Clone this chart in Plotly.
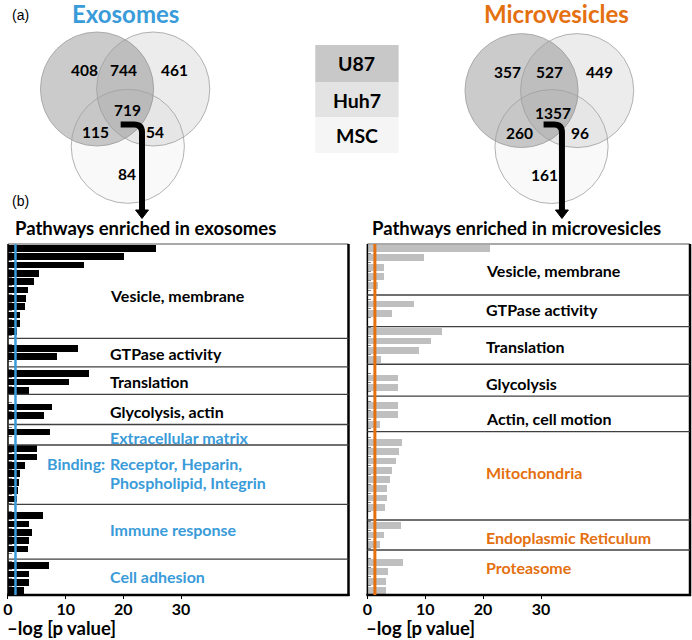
import plotly.graph_objects as go

W, H = 692, 640

# ---------------- data ----------------
exo_values = [25.6, 20.1, 13.1, 5.3, 4.5, 3.4, 3.2, 3.0, 2.1, 2.0, 1.5, None,
              12.1, 8.5, None,
              14.1, 10.5, 3.6, None,
              7.6, 6.3, None,
              7.3, None,
              5.1, 5.0, 2.9, 2.1, 1.95, 1.8, 1.6, None,
              6.1, 3.7, 4.1, 3.6, 3.4, None,
              7.1, 3.6, 3.6, 2.8]
mv_values = [21.3, 9.8, 3.0, 3.0, 1.9, None,
             8.1, 4.3, None,
             13.0, 11.0, 8.9, 2.5, None,
             5.4, 5.3, None,
             5.4, 5.35, 2.3, None,
             6.0, 5.6, 5.0, 4.4, 3.9, 3.5, 3.4, 3.1, None,
             5.9, 2.9, 2.2, None,
             6.2, 3.6, 3.3, 3.3]
exo_sections = ["Vesicle, membrane", "GTPase activity", "Translation", "Glycolysis, actin",
                "Extracellular matrix", "Binding:|Receptor, Heparin,|Phospholipid, Integrin",
                "Immune response", "Cell adhesion"]
exo_section_highlight = [False, False, False, False, True, True, True, True]
mv_sections = ["Vesicle, membrane", "GTPase activity", "Translation", "Glycolysis",
               "Actin, cell motion", "Mitochondria", "Endoplasmic Reticulum", "Proteasome"]
mv_section_highlight = [False, False, False, False, False, True, True, True]
x_ticks = [0, 10, 20, 30]
threshold = 1.3
exo_venn_counts = [408, 744, 461, 719, 115, 54, 84]
mv_venn_counts = [357, 527, 449, 1357, 260, 96, 161]
cell_lines = ["U87", "Huh7", "MSC"]

# ---------------- style / layout ----------------
FONT = "Lato"
BLUE = "#3a9bd9"
ORANGE = "#e4700f"

def px(x):
    return x / W

def py(y):
    return 1 - y / H

TOP, BOT = 244, 595
exo_x0, exo_x1 = 3, 346
mv_x0, mv_x1 = 365, 690

fig = go.Figure()
fig.add_trace(go.Bar(x=exo_values, y=list(range(len(exo_values))), orientation="h",
                     marker=dict(color="black", line=dict(width=0)), width=0.8,
                     xaxis="x", yaxis="y", showlegend=False, hoverinfo="x"))
fig.add_trace(go.Bar(x=mv_values, y=list(range(len(mv_values))), orientation="h",
                     marker=dict(color="#bfbfbf", line=dict(width=0)), width=0.74,
                     xaxis="x2", yaxis="y2", showlegend=False, hoverinfo="x"))

tickfont = dict(family=FONT, size=16, color="black", weight="bold")
common_x = dict(tickvals=x_ticks, ticktext=[str(t) for t in x_ticks], ticks="outside",
                ticklen=3, tickcolor="black", tickfont=tickfont, showgrid=False,
                zeroline=False, showline=False, fixedrange=True, ticklabelstandoff=-3)
common_y = dict(ticks="inside", ticklen=4, tickcolor="#808080", showticklabels=False,
                showgrid=False, zeroline=False, showline=False, fixedrange=True)

ydom = [py(BOT), py(TOP)]
fig.update_layout(
    xaxis=dict(domain=[px(exo_x0), px(exo_x1)], range=[0, (exo_x1 - exo_x0) / 5.81],
               anchor="y", **common_x),
    yaxis=dict(domain=ydom, range=[len(exo_values) - 0.5, -0.5], anchor="x",
               tickvals=[i + 0.5 for i in range(len(exo_values) - 1)], **common_y),
    xaxis2=dict(domain=[px(mv_x0), px(mv_x1)], range=[0, (mv_x1 - mv_x0) / 5.83],
                anchor="y2", **common_x),
    yaxis2=dict(domain=ydom, range=[len(mv_values) - 0.5, -0.5], anchor="x2",
                tickvals=[i + 0.5 for i in range(len(mv_values) - 1)], **common_y),
    width=W, height=H, margin=dict(l=0, r=0, t=0, b=0),
    paper_bgcolor="white", plot_bgcolor="rgba(0,0,0,0)", bargap=0,
)

shapes = []
annotations = []

def line(x0, y0, x1, y1, color, width):
    shapes.append(dict(type="line", xref="paper", yref="paper", x0=px(x0), y0=py(y0),
                       x1=px(x1), y1=py(y1), line=dict(color=color, width=width)))

# panel frames
for a, b in [(exo_x0, exo_x1), (mv_x0, mv_x1)]:
    line(a, TOP, b, TOP, "#555555", 1)
    line(a, TOP, a, BOT, "black", 1.5)
    line(a - 1, BOT, b + 1, BOT, "black", 2.5)
    line(b, TOP, b, BOT + 1, "black", 2.5)

# section separators (row units)
exo_sep = [10.8, 14.2, 17.5, 21.1, 23.55, 30.65, 37.2]
mv_sep = [5.02, 8.45, 12.52, 15.96, 19.82, 29.38, 32.63]
for s in exo_sep:
    shapes.append(dict(type="line", xref="x domain", yref="y", x0=0, x1=1, y0=s, y1=s,
                       line=dict(color="#404040", width=1.3)))
for s in mv_sep:
    shapes.append(dict(type="line", xref="x2 domain", yref="y2", x0=0, x1=1, y0=s, y1=s,
                       line=dict(color="#404040", width=1.3)))

# significance threshold lines
shapes.append(dict(type="line", xref="x", yref="y domain", x0=threshold, x1=threshold,
                   y0=0, y1=1, line=dict(color=BLUE, width=2.5)))
shapes.append(dict(type="line", xref="x2", yref="y2 domain", x0=threshold, x1=threshold,
                   y0=0, y1=1, line=dict(color=ORANGE, width=3)))

def text(x, y, s, size, color="black", bold=True, xanchor="left", family=FONT):
    annotations.append(dict(x=px(x), y=py(y), xref="paper", yref="paper", text=s,
                            showarrow=False, xanchor=xanchor, yanchor="middle",
                            font=dict(family=family, size=size, color=color,
                                      weight="bold" if bold else "normal")))

# section labels
LS = 16
exo_label_y = [295, 353, 381, 411, 437, 463, 529, 576]
for lab, hl, yy in zip(exo_sections, exo_section_highlight, exo_label_y):
    col = BLUE if hl else "black"
    if "|" in lab:
        p1, p2, p3 = lab.split("|")
        text(103, yy, p1, LS, col, xanchor="right")
        text(104, yy, p2, LS, col)
        text(104, yy + 19, p3, LS, col)
    else:
        text(104, yy, lab, LS, col)
mv_label_y = [270, 309, 346, 383, 418, 472, 537, 567]
for lab, hl, yy in zip(mv_sections, mv_section_highlight, mv_label_y):
    text(482, yy, lab, LS, ORANGE if hl else "black")

# panel titles / axis titles
text(8, 228, "Pathways enriched in exosomes", 18.5)
text(368, 228, "Pathways enriched in microvesicles", 18.5)
text(0, 628, "\u2013log [p value]", 18.5)
text(362, 628, "\u2013log [p value]", 18.5)
text(5, 15, "(a)", 14, bold=False, family="Liberation Sans")
text(5, 201, "(b)", 14, bold=False, family="Liberation Sans")
text(121, 14, "Exosomes", 24, BLUE, xanchor="center")
text(556, 14, "Microvesicles", 24, ORANGE, xanchor="center")

# venn diagrams
def circle(cx, cy, r, fill):
    shapes.append(dict(type="circle", xref="paper", yref="paper", x0=px(cx - r), x1=px(cx + r),
                       y0=py(cy + r), y1=py(cy - r), fillcolor=fill,
                       line=dict(color="#a0a0a0", width=0.8), layer="below"))

fills = ["rgba(110,110,110,0.36)", "rgba(110,110,110,0.13)", "rgba(110,110,110,0.04)"]
exo_centers = [(92.7, 89), (149.3, 89), (123.7, 146.3)]
mv_centers = [(520.3, 90.6), (576.3, 90.6), (550.5, 146.5)]
for centers in (exo_centers, mv_centers):
    for (cx, cy), f in zip(centers, fills):
        circle(cx, cy, 57, f)

exo_count_pos = [(80, 70), (119.5, 70), (170.5, 70), (123.5, 109.5), (91, 131.5), (151.5, 131.5), (122.5, 173.5)]
mv_count_pos = [(506.5, 72), (548.5, 72), (598.5, 72), (551.5, 112.5), (518.5, 132.5), (579.5, 132.5), (543.5, 175)]
for counts, pos in ((exo_venn_counts, exo_count_pos), (mv_venn_counts, mv_count_pos)):
    for c, (x, y) in zip(counts, pos):
        text(x, y, str(c), 15.5, xanchor="center")

# legend table
box_y = [(45, 82), (82, 117), (117, 153)]
box_fill = ["#c8c8c8", "#e3e3e3", "#f5f5f5"]
for name, (y0, y1), f in zip(cell_lines, box_y, box_fill):
    shapes.append(dict(type="rect", xref="paper", yref="paper", x0=px(312.5), x1=px(396.5),
                       y0=py(y1), y1=py(y0), fillcolor=f, line=dict(width=0), layer="below"))
    text(354.5, (y0 + y1) / 2 + 0.5, name, 19.5, xanchor="center")

# arrows
def arrow(xs, ys, xv):
    p = (f"M {px(xs)},{py(ys)} L {px(xv - 8)},{py(ys)} "
         f"Q {px(xv)},{py(ys)} {px(xv)},{py(ys + 8)} L {px(xv)},{py(211)}")
    shapes.append(dict(type="path", xref="paper", yref="paper", path=p,
                       line=dict(color="black", width=6)))
    tri = (f"M {px(xv - 6.5)},{py(210)} L {px(xv + 6.5)},{py(210)} "
           f"L {px(xv)},{py(218.5)} Z")
    shapes.append(dict(type="path", xref="paper", yref="paper", path=tri,
                       fillcolor="black", line=dict(color="black", width=1)))

arrow(116.5, 124.5, 138)
arrow(542.5, 124.5, 561)

fig.update_layout(shapes=shapes, annotations=annotations)
fig.write_html("out.html", config={"displayModeBar": False},
               post_script="document.body.style.margin='0';")
